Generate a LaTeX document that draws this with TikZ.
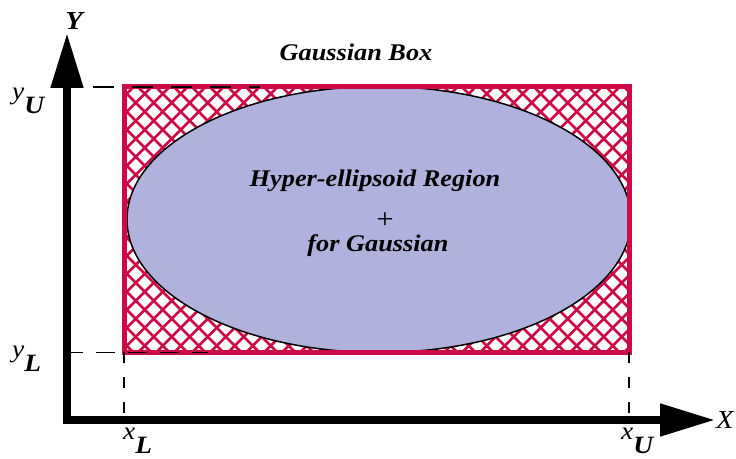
\documentclass[tikz,border=0pt]{standalone}
\usepackage{fontspec}
\setmainfont{Liberation Serif}
\newfontfamily\figfont[FakeStretch=1.1]{Liberation Serif}
\usetikzlibrary{arrows.meta}
\definecolor{boxred}{HTML}{CC0A45}
\definecolor{ellfill}{HTML}{B1B1DE}
% variable with a bold lowered index, e.g. x_L
\newcommand{\bndlbl}[2]{\textit{#1}\raisebox{-14bp}{\textbf{\textit{#2}}}}

\begin{document}
\begin{tikzpicture}[x=1bp,y=1bp,
    axis/.style={line width=8bp,miter limit=20},
    guide/.style={line width=1.5bp},
    lbl/.style={inner sep=0pt,font=\figfont\fontsize{24}{28}\selectfont\bfseries\itshape},
    axlbl/.style={inner sep=0pt,font=\figfont\fontsize{26}{30}\selectfont\itshape},
    bndlbl/.style={inner sep=0pt,anchor=base west,font=\figfont\fontsize{25}{28}\selectfont}]
  \useasboundingbox (0,0) rectangle (736,459);
  \coordinate (o) at (67,39);
  \coordinate (ll) at (124,106.5);
  \coordinate (ur) at (629,372);

  % cross hatching inside the box
  \begin{scope}
    \clip (ll) rectangle (ur);
    \foreach \i in {-150,-132,...,640}
      \draw[boxred,line width=2.5bp] (\i,106.5) -- ++(266,266)
                                     (\i,372) -- ++(266,-266);
  \end{scope}
  \draw[line width=1.5bp,fill=ellfill] (379,239.5) ellipse [x radius=252, y radius=133];
  \draw[boxred,line width=5bp] (ll) rectangle (ur);

  % bound guides
  \draw[guide,dash pattern=on 21bp off 18bp] (93,372) -- (260,372);
  \draw[guide,dash pattern=on 19bp off 13bp] (64,106.5) -- (208,106.5);
  \draw[guide,dash pattern=on 11bp off 14bp] (ll) -- (ll |- o);
  \draw[guide,dash pattern=on 11bp off 14bp] (ll -| ur) -- (ur |- o);

  % axes
  \draw[axis,{Triangle[length=55bp,width=31bp]}-{Triangle[length=55bp,width=31bp]}]
    (67,426) -- (o) -- (715,39);
  \node[axlbl,anchor=base,font=\figfont\fontsize{26}{30}\selectfont\bfseries\itshape] (ylab) at (74,429) {Y};
  \node[axlbl,anchor=base west] (xlab) at (716,30) {X};

  \node[bndlbl] (yu) at (12,359) {\bndlbl{y}{U}};
  \node[bndlbl] (yl) at (12,101) {\bndlbl{y}{L}};
  \node[bndlbl] (xl) at (123,19) {\bndlbl{x}{L}};
  \node[bndlbl] (xu) at (621,19) {\bndlbl{x}{U}};

  \node[lbl,anchor=base] (title) at (356,398) {Gaussian Box};
  \node[lbl,anchor=base] (reg) at (375,272) {Hyper-ellipsoid Region};
  \node[inner sep=0pt,font=\figfont\fontsize{28}{32}\selectfont] (ctr) at (385,238) {+};
  \node[lbl,anchor=base] (gau) at (378,207) {for Gaussian};
\end{tikzpicture}
\end{document}
